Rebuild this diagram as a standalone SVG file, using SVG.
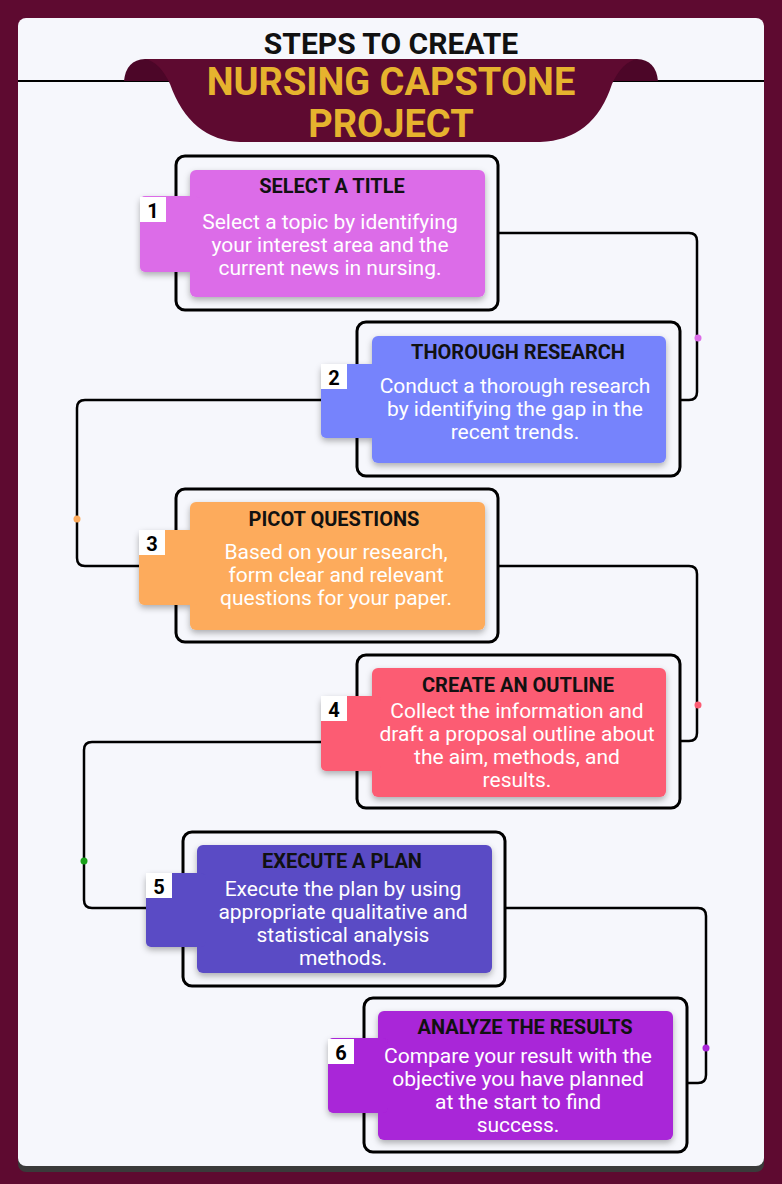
<svg xmlns="http://www.w3.org/2000/svg" width="782" height="1184" viewBox="0 0 782 1184">
<style>
.out{fill:none;stroke:#000;stroke-width:3}
.con{fill:none;stroke:#000;stroke-width:2.5}
.ttl{font-family:Roboto,"Liberation Sans",sans-serif;font-weight:bold;font-size:20px;fill:#111;text-anchor:middle}
.body{font-family:Roboto,"Liberation Sans",sans-serif;font-size:21px;fill:#fff;text-anchor:middle}
.num{font-family:Roboto,"Liberation Sans",sans-serif;font-weight:bold;font-size:20px;fill:#000;text-anchor:middle}
.nb{fill:#fff}
</style>
<defs>
<filter id="sh" x="-10%" y="-10%" width="120%" height="130%"><feDropShadow dx="0" dy="3" stdDeviation="3" flood-color="#000" flood-opacity="0.3"/></filter>
</defs>
<rect width="782" height="1184" fill="#5e0a30"/>
<rect x="18" y="22" width="746" height="1150" rx="8" fill="#3a3a3a"/>
<rect x="18" y="18" width="746" height="1148" rx="8" fill="#f6f7fc"/>
<g id="header">
<line x1="18" y1="81" x2="764" y2="81" stroke="#000" stroke-width="2"/>
<path d="M124 81 Q126 60 145 59 L170 59 L170 81 Z" fill="#4c0628"/>
<path d="M658 81 Q656 60 637 59 L612 59 L612 81 Z" fill="#4c0628"/>
<path d="M145 59 Q160 62 170 84 Q190 140 240 142 L540 142 Q594 140 612 84 Q622 62 637 59 Z" fill="#5e0a30"/>
<text x="391" y="54" font-family="Roboto,'Liberation Sans',sans-serif" font-weight="bold" font-size="30" text-anchor="middle" fill="#111">STEPS TO CREATE</text>
<text x="391" y="95" font-family="Roboto,'Liberation Sans',sans-serif" font-weight="bold" font-size="38" text-anchor="middle" fill="#e6b32e">NURSING CAPSTONE</text>
<text x="391" y="137" font-family="Roboto,'Liberation Sans',sans-serif" font-weight="bold" font-size="38" text-anchor="middle" fill="#e6b32e">PROJECT</text>
</g>
<g id="connectors">
<path class="con" d="M498 233 H689 Q697 233 697 241 V392 Q697 400 689 400 H680"/>
<path class="con" d="M357 400 H85 Q77 400 77 408 V558 Q77 566 85 566 H139"/>
<path class="con" d="M498 566 H689 Q697 566 697 574 V733 Q697 741 689 741 H680"/>
<path class="con" d="M357 742 H92 Q84 742 84 750 V900 Q84 908 92 908 H146"/>
<path class="con" d="M505 908 H698 Q706 908 706 916 V1075 Q706 1083 698 1083 H687"/>
<circle cx="698" cy="338" r="3.5" fill="#dc6ce8"/>
<circle cx="77" cy="519" r="3.5" fill="#fdab5c"/>
<circle cx="698" cy="705" r="3.5" fill="#fc5b73"/>
<circle cx="84" cy="861" r="3.5" fill="#1aa31a"/>
<circle cx="706" cy="1048" r="3.5" fill="#a925d8"/>
</g>
<g id="step1">
<rect class="out" x="176" y="156" width="322" height="154" rx="9"/>
<g filter="url(#sh)" fill="#dc6ce8"><rect x="190" y="170" width="295" height="127" rx="6"/><rect x="140" y="196" width="60" height="76" rx="5"/></g>
<rect class="nb" x="140" y="197" width="26" height="25"/><text class="num" x="153" y="218">1</text>
<text class="ttl" x="332" y="193">SELECT A TITLE</text>
<text class="body" x="330" y="229">Select a topic by identifying</text>
<text class="body" x="330" y="252">your interest area and the</text>
<text class="body" x="330" y="275">current news in nursing.</text>
</g>
<g id="step2">
<rect class="out" x="357" y="322" width="323" height="154" rx="9"/>
<g filter="url(#sh)" fill="#7683fc"><rect x="372" y="336" width="294" height="127" rx="6"/><rect x="321" y="364" width="60" height="74" rx="5"/></g>
<rect class="nb" x="321" y="364" width="26" height="25"/><text class="num" x="334" y="385">2</text>
<text class="ttl" x="518" y="359">THOROUGH RESEARCH</text>
<text class="body" x="515" y="393">Conduct a thorough research</text>
<text class="body" x="515" y="416">by identifying the gap in the</text>
<text class="body" x="515" y="439">recent trends.</text>
</g>
<g id="step3">
<rect class="out" x="176" y="489" width="322" height="153" rx="9"/>
<g filter="url(#sh)" fill="#fdab5c"><rect x="190" y="502" width="295" height="128" rx="6"/><rect x="139" y="530" width="60" height="75" rx="5"/></g>
<rect class="nb" x="139" y="530" width="26" height="25"/><text class="num" x="152" y="551">3</text>
<text class="ttl" x="334" y="526">PICOT QUESTIONS</text>
<text class="body" x="336" y="559">Based on your research,</text>
<text class="body" x="336" y="582">form clear and relevant</text>
<text class="body" x="336" y="605">questions for your paper.</text>
</g>
<g id="step4">
<rect class="out" x="357" y="655" width="323" height="153" rx="9"/>
<g filter="url(#sh)" fill="#fc5b73"><rect x="372" y="668" width="294" height="129" rx="6"/><rect x="321" y="696" width="60" height="75" rx="5"/></g>
<rect class="nb" x="321" y="696" width="26" height="25"/><text class="num" x="334" y="717">4</text>
<text class="ttl" x="518" y="692">CREATE AN OUTLINE</text>
<text class="body" x="517" y="718">Collect the information and</text>
<text class="body" x="517" y="741">draft a proposal outline about</text>
<text class="body" x="517" y="764">the aim, methods, and</text>
<text class="body" x="517" y="787">results.</text>
</g>
<g id="step5">
<rect class="out" x="183" y="832" width="322" height="154" rx="9"/>
<g filter="url(#sh)" fill="#5a4bc5"><rect x="197" y="845" width="295" height="128" rx="6"/><rect x="146" y="873" width="60" height="74" rx="5"/></g>
<rect class="nb" x="146" y="873" width="26" height="25"/><text class="num" x="159" y="894">5</text>
<text class="ttl" x="342" y="868">EXECUTE A PLAN</text>
<text class="body" x="343" y="896">Execute the plan by using</text>
<text class="body" x="343" y="919">appropriate qualitative and</text>
<text class="body" x="343" y="942">statistical analysis</text>
<text class="body" x="343" y="965">methods.</text>
</g>
<g id="step6">
<rect class="out" x="364" y="998" width="323" height="154" rx="9"/>
<g filter="url(#sh)" fill="#a925d8"><rect x="378" y="1011" width="295" height="129" rx="6"/><rect x="328" y="1038" width="60" height="75" rx="5"/></g>
<rect class="nb" x="328" y="1039" width="26" height="25"/><text class="num" x="341" y="1060">6</text>
<text class="ttl" x="525" y="1034">ANALYZE THE RESULTS</text>
<text class="body" x="518" y="1063">Compare your result with the</text>
<text class="body" x="518" y="1086">objective you have planned</text>
<text class="body" x="518" y="1109">at the start to find</text>
<text class="body" x="518" y="1132">success.</text>
</g>
</svg>
